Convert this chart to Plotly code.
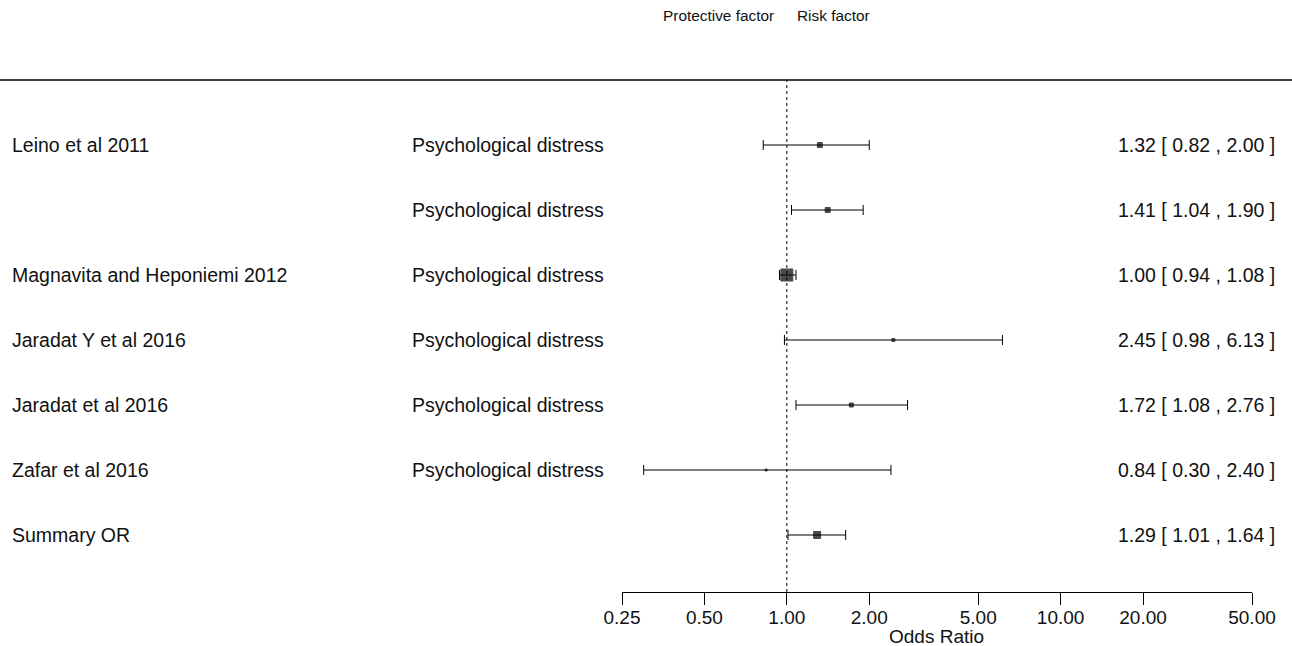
import math
import plotly.graph_objects as go

# ---------------- data ----------------
studies = ["Leino et al 2011", "", "Magnavita and Heponiemi 2012",
           "Jaradat Y et al 2016", "Jaradat et al 2016", "Zafar et al 2016", "Summary OR"]
outcomes = ["Psychological distress"] * 6 + [""]
odds_ratio = [1.32, 1.41, 1.00, 2.45, 1.72, 0.84, 1.29]
ci_low = [0.82, 1.04, 0.94, 0.98, 1.08, 0.30, 1.01]
ci_high = [2.00, 1.90, 1.08, 6.13, 2.76, 2.40, 1.64]
weights = [5, 5, 12, 3, 4, 2, 7]          # relative study weights (marker size)
tick_values = [0.25, 0.5, 1, 2, 5, 10, 20, 50]
tick_labels = ["0.25", "0.50", "1.00", "2.00", "5.00", "10.00", "20.00", "50.00"]

W, H = 1292, 646
FONT = "Liberation Sans, Arial, sans-serif"
n = len(studies)
ypos = list(range(n, 0, -1))  # 7 .. 1 top to bottom

y_bot_px, y_top_px = 592, 80
ydom = [1 - y_bot_px / H, 1 - y_top_px / H]
xdom = [622 / W, 1252 / W]

fig = go.Figure()
fig.add_trace(go.Scatter(
    x=odds_ratio, y=ypos, mode="markers",
    marker=dict(symbol="square", size=weights, color="black",
                line=dict(width=1, color="black")),
    error_x=dict(type="data", symmetric=False,
                 array=[h - o for h, o in zip(ci_high, odds_ratio)],
                 arrayminus=[o - l for o, l in zip(odds_ratio, ci_low)],
                 color="black", thickness=1, width=5),
    hoverinfo="skip", showlegend=False,
))

annotations = []
for yy, s, o, est, l, h in zip(ypos, studies, outcomes, odds_ratio, ci_low, ci_high):
    if s:
        annotations.append(dict(x=10 / W, y=yy, xref="paper", yref="y", text=s,
                                xanchor="left", yanchor="middle", showarrow=False,
                                font=dict(family=FONT, size=19.5, color="#111")))
    if o:
        annotations.append(dict(x=410 / W, y=yy, xref="paper", yref="y", text=o,
                                xanchor="left", yanchor="middle", showarrow=False,
                                font=dict(family=FONT, size=19.5, color="#111")))
    annotations.append(dict(x=1277 / W, y=yy, xref="paper", yref="y",
                            text=f"{est:.2f} [ {l:.2f} , {h:.2f} ]",
                            xanchor="right", yanchor="middle", showarrow=False,
                            font=dict(family=FONT, size=19.5, color="#111")))

annotations += [
    dict(x=776 / W, y=1 - 16 / H, xref="paper", yref="paper", text="Protective factor",
         xanchor="right", yanchor="middle", showarrow=False,
         font=dict(family=FONT, size=15.4, color="#111")),
    dict(x=795 / W, y=1 - 16 / H, xref="paper", yref="paper", text="Risk factor",
         xanchor="left", yanchor="middle", showarrow=False,
         font=dict(family=FONT, size=15.4, color="#111")),
    dict(x=(xdom[0] + xdom[1]) / 2, y=1 - 625 / H, xref="paper", yref="paper",
         text="Odds Ratio", xanchor="center", yanchor="top", showarrow=False,
         borderpad=0, font=dict(family=FONT, size=19, color="#111")),
]

shapes = [
    dict(type="line", xref="paper", yref="paper", x0=0, x1=1, y0=ydom[1], y1=ydom[1],
         line=dict(color="black", width=1.5)),
    dict(type="line", xref="x", yref="paper", x0=1, x1=1, y0=ydom[0], y1=ydom[1],
         line=dict(color="black", width=1, dash="dot")),
]

fig.update_layout(
    width=W, height=H, margin=dict(l=0, r=0, t=0, b=0, autoexpand=False),
    paper_bgcolor="white", plot_bgcolor="white",
    xaxis=dict(type="log", domain=xdom, automargin=False,
               range=[math.log10(0.25), math.log10(50)],
               tickvals=tick_values, ticktext=tick_labels,
               showline=True, linecolor="black", linewidth=1.2,
               ticks="outside", ticklen=12, tickcolor="black", tickwidth=1.2,
               ticklabelstandoff=-4,
               showgrid=False, zeroline=False,
               tickfont=dict(family=FONT, size=19, color="#111")),
    yaxis=dict(domain=ydom, range=[0.123, 8], visible=False, showgrid=False,
               automargin=False),
    annotations=annotations, shapes=shapes,
)

fig.write_html("out.html")
